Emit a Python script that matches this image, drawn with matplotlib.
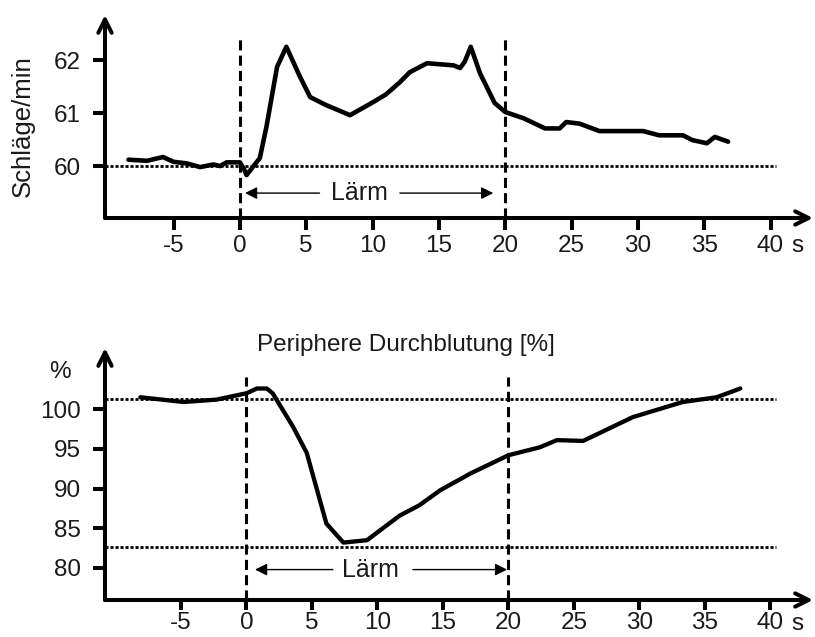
import matplotlib
matplotlib.use("Agg")
import matplotlib.pyplot as plt

plt.rcParams['font.family'] = ['Liberation Sans', 'DejaVu Sans']

# ---- data ----
hr_t = [-8.4, -7.0, -5.8, -5.0, -4.0, -3.0, -2.0, -1.5, -1.0, 0.0, 0.3, 0.5, 1.5, 2.0, 2.8, 3.5,
        4.5, 5.3, 6.5, 8.3, 10.0, 11.0, 12.05, 12.8, 14.1, 16.1, 16.6, 16.95, 17.4, 18.1, 19.2,
        20.0, 21.4, 23.0, 24.1, 24.6, 25.6, 27.1, 30.4, 31.6, 33.4, 34.1, 35.2, 35.8, 36.8]
hr_v = [60.12, 60.10, 60.17, 60.08, 60.05, 59.98, 60.03, 60.00, 60.07, 60.07, 59.95, 59.83, 60.15,
        60.74, 61.87, 62.25, 61.70, 61.30, 61.15, 60.96, 61.20, 61.35, 61.58, 61.77, 61.94, 61.90,
        61.85, 61.97, 62.25, 61.75, 61.19, 61.02, 60.90, 60.71, 60.71, 60.83, 60.80, 60.66, 60.66,
        60.58, 60.58, 60.49, 60.43, 60.55, 60.46]

bf_t = [-8.1, -4.8, -2.3, 0.0, 0.8, 1.55, 2.0, 3.55, 4.6, 6.1, 7.4, 9.2, 11.7, 13.2, 14.8, 17.1,
        20.0, 22.4, 23.7, 25.7, 29.5, 33.3, 35.9, 37.7]
bf_v = [101.5, 100.9, 101.2, 102.0, 102.6, 102.6, 102.0, 97.8, 94.5, 85.6, 83.2, 83.5, 86.6, 87.9,
        89.8, 91.9, 94.2, 95.2, 96.1, 96.0, 99.0, 100.9, 101.5, 102.6]

x_ticks = [-5, 0, 5, 10, 15, 20, 25, 30, 35, 40]
hr_ticks = [60, 61, 62]
bf_ticks = [80, 85, 90, 95, 100]
noise_start, noise_end = 0, 20
hr_ref = 60.0
bf_refs = [101.26, 82.6]
noise_label = "Lärm"

W, H = 815, 637
fig = plt.figure(figsize=(W / 100, H / 100), dpi=100)

def px_axes(x0, y0, x1, y1):
    return fig.add_axes([x0 / W, 1 - y1 / H, (x1 - x0) / W, (y1 - y0) / H])

TXT = '#1a1a1a'
FS = 17.5
ALW = 2.9

def style(ax, xpad, xlen):
    for s in ax.spines.values():
        s.set_visible(False)
    ax.annotate('', xy=(1, 0), xytext=(0, 0), xycoords='axes fraction',
                arrowprops=dict(arrowstyle='->', lw=ALW, color='black', shrinkA=0, shrinkB=0,
                                mutation_scale=24))
    ax.annotate('', xy=(0, 1), xytext=(0, 0), xycoords='axes fraction',
                arrowprops=dict(arrowstyle='->', lw=ALW, color='black', shrinkA=0, shrinkB=0,
                                mutation_scale=24))
    ax.tick_params(axis='y', direction='out', length=8.6, width=ALW, color='black',
                   labelsize=FS, labelcolor=TXT, pad=9)
    ax.tick_params(axis='x', direction='out', length=xlen, width=ALW, color='black',
                   labelsize=FS, labelcolor=TXT, pad=xpad)
    ax.set_xticks(x_ticks)
    ax.set_xticklabels([str(v) for v in x_ticks])
    ax.patch.set_alpha(0)

# ---- top panel ----
ax1 = px_axes(105, 15, 813, 218)
ax1.set_xlim(-10.17, 43.2)
ax1.set_ylim(59.02, 62.85)
style(ax1, 4, 8.6)
ax1.set_yticks(hr_ticks)
ax1.set_yticklabels([str(v) for v in hr_ticks])
ax1.plot([-10.17, 40.4], [hr_ref, hr_ref], color='black', lw=2.0, ls=(0, (1.1, 0.7)))
for xv in (noise_start, noise_end):
    ax1.plot([xv, xv], [59.02, 62.42], color='black', lw=2.2, ls=(0, (3.3, 1.7)))
ax1.plot(hr_t, hr_v, color='black', lw=3.3, solid_joinstyle='round', solid_capstyle='round')
ax1.text(9.0, 59.49, noise_label, ha='center', va='center', fontsize=18, color=TXT)
ax1.annotate('', xy=(0.38, 59.49), xytext=(6.0, 59.49),
             arrowprops=dict(arrowstyle='-|>', lw=1.0, color='black', mutation_scale=18, shrinkA=0, shrinkB=0))
ax1.annotate('', xy=(19.1, 59.49), xytext=(12.06, 59.49),
             arrowprops=dict(arrowstyle='-|>', lw=1.0, color='black', mutation_scale=18, shrinkA=0, shrinkB=0))
fig.text(23 / W, 1 - 126 / H, 'Schläge/min', rotation=90, ha='center', va='center',
         fontsize=18.5, color=TXT)
fig.text(797 / W, 1 - 246 / H, 's', ha='center', va='center', fontsize=FS, color=TXT)

# ---- bottom panel ----
ax2 = px_axes(105, 348, 813, 600)
ax2.set_xlim(-10.8, 43.25)
ax2.set_ylim(75.97, 107.7)
style(ax2, 1.2, 7.5)
ax2.set_yticks(bf_ticks)
ax2.set_yticklabels([str(v) for v in bf_ticks])
for yv in bf_refs:
    ax2.plot([-10.8, 40.4], [yv, yv], color='black', lw=2.0, ls=(0, (1.1, 0.7)))
for xv in (noise_start, noise_end):
    ax2.plot([xv, xv], [75.97, 104.0], color='black', lw=2.2, ls=(0, (3.3, 1.7)))
ax2.plot(bf_t, bf_v, color='black', lw=3.1, solid_joinstyle='round', solid_capstyle='round')
ax2.text(9.5, 79.8, noise_label, ha='center', va='center', fontsize=18, color=TXT)
ax2.annotate('', xy=(0.65, 79.8), xytext=(6.6, 79.8),
             arrowprops=dict(arrowstyle='-|>', lw=1.0, color='black', mutation_scale=18, shrinkA=0, shrinkB=0))
ax2.annotate('', xy=(19.9, 79.8), xytext=(12.7, 79.8),
             arrowprops=dict(arrowstyle='-|>', lw=1.0, color='black', mutation_scale=18, shrinkA=0, shrinkB=0))
ax2.text(12.2, 108.05, 'Periphere Durchblutung [%]', ha='center', va='center', fontsize=17.5,
         color=TXT, clip_on=False)
fig.text(60 / W, 1 - 372 / H, '%', ha='center', va='center', fontsize=FS, color=TXT)
fig.text(797 / W, 1 - 624 / H, 's', ha='center', va='center', fontsize=FS, color=TXT)

fig.savefig('out.png', dpi=100)
